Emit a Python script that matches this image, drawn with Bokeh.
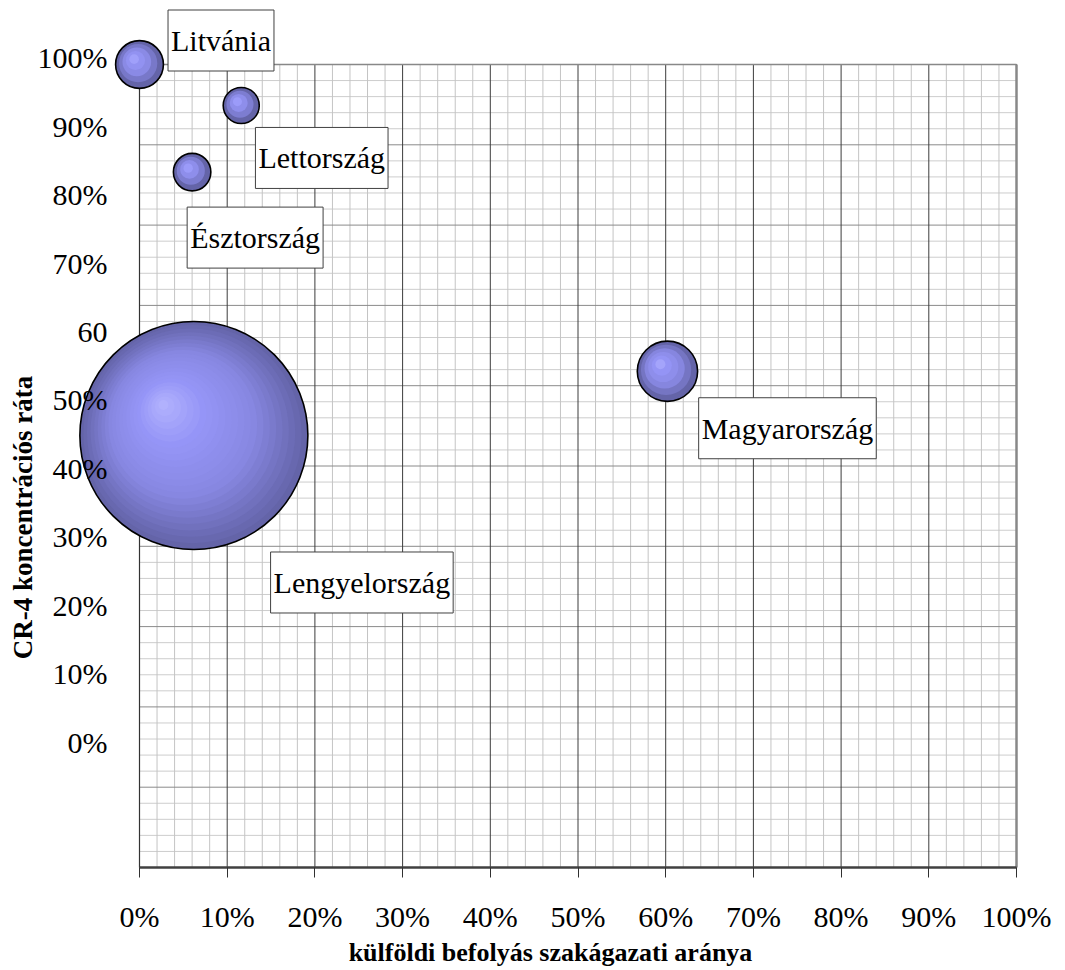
import numpy as np
from bokeh.plotting import figure
from bokeh.models import Range1d, FixedTicker, Label, NumeralTickFormatter
from bokeh.embed import file_html
from bokeh.resources import INLINE

# ---------------- data ----------------
countries = ["Litvánia", "Lettország", "Észtország", "Lengyelország", "Magyarország"]
foreign_share = [0.0, 0.116, 0.060, 0.062, 0.602]      # külföldi befolyás szakágazati aránya
cr4_ratio = [1.0, 0.949, 0.866, 0.538, 0.618]           # CR-4 koncentrációs ráta
bubble_size = [4.4, 2.5, 2.7, 100.0, 7.0]               # relative bubble size (area)

x_tick_values = [0.0, 0.1, 0.2, 0.3, 0.4, 0.5, 0.6, 0.7, 0.8, 0.9, 1.0]
y_tick_labels = ["0%", "10%", "20%", "30%", "40%", "50%", "60", "70%", "80%", "90%", "100%"]
x_title = "külföldi befolyás szakágazati aránya"
y_title = "CR-4 koncentrációs ráta"

# ---------------- layout ----------------
W, H = 1060, 970
PL, PT, PW, PH = 139, 64, 877, 803          # plot-area box inside canvas (px)
x0, x1 = -PL / PW, (W - PL) / PW
y0, y1 = -(H - PT - PH) / PH, 1 + PT / PH
FONT = "Liberation Serif"

p = figure(width=W, height=H, x_range=Range1d(x0, x1), y_range=Range1d(y0, y1),
           output_backend="svg", toolbar_location=None, min_border=0,
           outline_line_color=None, background_fill_color="white",
           border_fill_color="white")
p.xgrid.visible = False
p.ygrid.visible = False

# grid lines restricted to the plot area
major = np.round(np.arange(0, 1.0001, 0.1), 2)
minor = np.array([v for v in np.round(np.arange(0, 1.0001, 0.02), 2)
                  if not np.isclose(v * 10, round(v * 10))])
zeros_m, ones_m = np.zeros_like(minor), np.ones_like(minor)
zeros_M, ones_M = np.zeros_like(major), np.ones_like(major)
p.segment(x0=zeros_m, y0=minor, x1=ones_m, y1=minor, line_color="#cdcdcd", line_width=1)
p.segment(x0=minor, y0=zeros_m, x1=minor, y1=ones_m, line_color="#c4c4c4", line_width=1)
p.segment(x0=zeros_M, y0=major, x1=ones_M, y1=major, line_color="#8a8a8a", line_width=1)
p.segment(x0=major, y0=zeros_M, x1=major, y1=ones_M, line_color="#3c3c3c", line_width=1)

# plot-area border
p.segment(x0=[0], y0=[0], x1=[0], y1=[1], line_color="#333333", line_width=1.2)
p.segment(x0=[0], y0=[1], x1=[1], y1=[1], line_color="#888888", line_width=1.5)
p.segment(x0=[1], y0=[1], x1=[1], y1=[0], line_color="#888888", line_width=2.5)

# x axis
xa = p.xaxis[0]
xa.fixed_location = 0
xa.bounds = (0, 1)
xa.ticker = FixedTicker(ticks=x_tick_values)
xa.formatter = NumeralTickFormatter(format="0%")
xa.axis_line_color = "#404040"
xa.axis_line_width = 2.5
xa.major_tick_out = 10
xa.major_tick_in = 0
xa.major_tick_line_color = "#303030"
xa.minor_tick_out = 0
xa.minor_tick_in = 0
xa.major_label_standoff = 22
xa.major_label_text_font = FONT
xa.major_label_text_font_size = "30px"
xa.major_label_text_color = "black"

# y axis (labels in the original are offset from the gridlines)
ya = p.yaxis[0]
ya.fixed_location = 0
y_label_pos = [round(0.1557 + 0.0853 * k, 4) for k in range(len(y_tick_labels))]
ya.ticker = FixedTicker(ticks=y_label_pos)
ya.major_label_overrides = {pos: lab for pos, lab in zip(y_label_pos, y_tick_labels)}
ya.axis_line_color = None
ya.major_tick_out = 0
ya.major_tick_in = 0
ya.minor_tick_out = 0
ya.minor_tick_in = 0
ya.major_label_standoff = 32
ya.major_label_text_font = FONT
ya.major_label_text_font_size = "30px"
ya.major_label_text_color = "black"

# ---------------- bubbles with radial shading ----------------
def shade(s):
    pts = [0.0, 0.35, 0.7, 1.0]
    r = np.interp(s, pts, [100, 136, 150, 182])
    g = np.interp(s, pts, [100, 136, 150, 182])
    b = np.interp(s, pts, [168, 226, 248, 255])
    return "#%02x%02x%02x" % (int(r), int(g), int(b))

R_MAX = 114.0
for name, bx, by, bs in sorted(zip(countries, foreign_share, cr4_ratio, bubble_size),
                               key=lambda t: -t[3]):
    R = R_MAX * np.sqrt(bs / 100.0)
    n = max(4, int(round(R / 5)))
    hx, hy = -0.28 * R, 0.28 * R
    xs, ys, rs, cs = [], [], [], []
    for k in range(n):
        s = k / n
        t = 1 - s
        xs.append(bx + hx * s / PW)
        ys.append(by + hy * s / PH)
        rs.append(R * t / PW)
        cs.append(shade(s))
    p.circle(x=xs, y=ys, radius=rs, fill_color=cs, line_color=None)
    p.circle(x=[bx], y=[by], radius=[R / PW], fill_color=None,
             line_color="black", line_width=1.6)

# ---------------- data labels ----------------
label_offsets = {  # screen-pixel offsets (right, down) of each label box centre from its bubble
    "Litvánia": (81.5, -24),
    "Lettország": (80.5, 52.5),
    "Észtország": (63, 65.5),
    "Lengyelország": (168, 147),
    "Magyarország": (120, 57),
}
for name, bx, by in zip(countries, foreign_share, cr4_ratio):
    dx, dy = label_offsets[name]
    p.add_layout(Label(x=bx + dx / PW, y=by - dy / PH, text=name,
                       text_align="center", text_baseline="middle",
                       text_font=FONT, text_font_size="30px", text_color="black",
                       background_fill_color="white", border_line_color="#404040",
                       border_line_width=1, padding=(3, 14)))

# axis titles
p.add_layout(Label(x=(550 - PL) / PW, y=-(952 - PT - PH) / PH, text=x_title,
                   text_align="center", text_baseline="middle", text_font=FONT,
                   text_font_size="26px", text_font_style="bold", text_color="black"))
p.add_layout(Label(x=(22 - PL) / PW, y=1 - (517 - PT) / PH, text=y_title,
                   angle=np.pi / 2, text_align="center", text_baseline="middle",
                   text_font=FONT, text_font_size="27px", text_font_style="bold",
                   text_color="black"))

open("out.html", "w").write(file_html(p, INLINE))
